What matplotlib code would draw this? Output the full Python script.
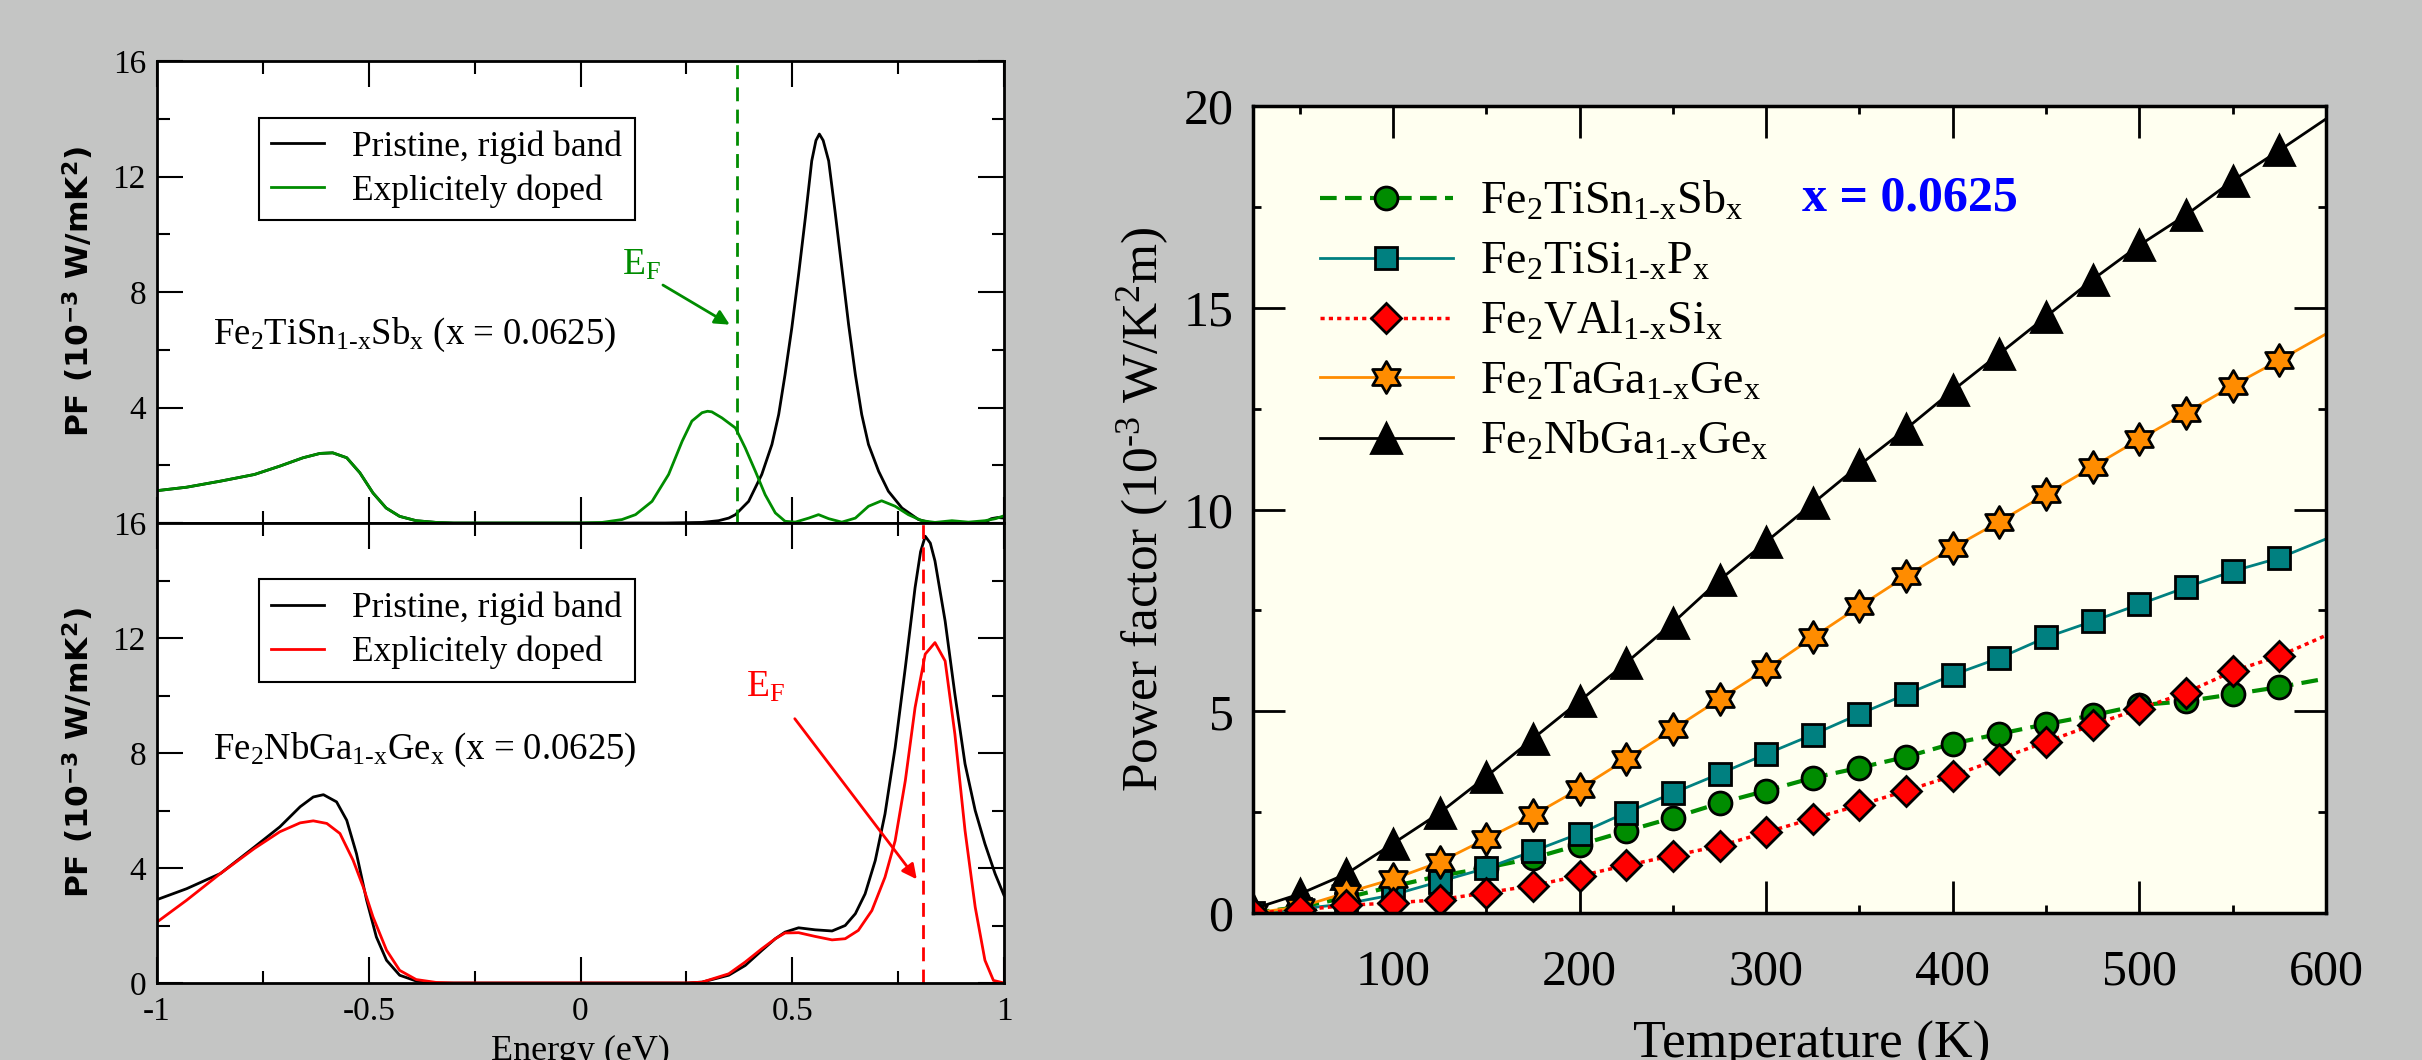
import matplotlib
matplotlib.use('Agg')
import matplotlib.pyplot as plt
import numpy as np
from matplotlib.path import Path
from matplotlib.ticker import MultipleLocator, FixedLocator

plt.rcParams['font.family'] = 'Liberation Serif'
plt.rcParams['mathtext.fontset'] = 'custom'
plt.rcParams['mathtext.rm'] = 'Liberation Serif'
plt.rcParams['mathtext.it'] = 'Liberation Serif:italic'
plt.rcParams['mathtext.bf'] = 'Liberation Serif:bold'
plt.rcParams['axes.unicode_minus'] = False

# ---- left panels: PF vs energy ----
top_E_pristine = [-1.0, -0.93, -0.85, -0.77, -0.71, -0.655, -0.615, -0.585, -0.552, -0.521,
                  -0.49, -0.459, -0.427, -0.388, -0.341, -0.30, 0.0, 0.20, 0.287, 0.326,
                  0.35, 0.366, 0.397, 0.428, 0.452, 0.468, 0.483, 0.499, 0.515, 0.531,
                  0.546, 0.556, 0.564, 0.573, 0.586, 0.601, 0.617, 0.633, 0.649, 0.664,
                  0.68, 0.704, 0.727, 0.759, 0.798, 0.829, 0.90, 0.955, 0.97, 0.985, 1.0]
top_PF_pristine = [1.12, 1.24, 1.45, 1.68, 1.97, 2.26, 2.41, 2.43, 2.26, 1.74,
                   1.04, 0.52, 0.23, 0.08, 0.02, 0.0, 0.0, 0.0, 0.02, 0.08,
                   0.17, 0.29, 0.75, 1.68, 2.72, 3.76, 5.14, 6.76, 8.61, 10.58,
                   12.54, 13.25, 13.47, 13.25, 12.54, 10.8, 8.84, 6.88, 5.14, 3.76,
                   2.72, 1.79, 1.1, 0.52, 0.12, 0.0, 0.0, 0.02, 0.15, 0.19, 0.17]

top_E_doped = [-1.0, -0.93, -0.85, -0.77, -0.71, -0.655, -0.615, -0.585, -0.552, -0.521,
               -0.49, -0.459, -0.427, -0.388, -0.341, -0.30, 0.0, 0.051, 0.098, 0.13,
               0.169, 0.208, 0.24, 0.263, 0.287, 0.30, 0.31, 0.334, 0.366, 0.389,
               0.413, 0.436, 0.46, 0.483, 0.507, 0.539, 0.562, 0.586, 0.617, 0.649,
               0.68, 0.711, 0.743, 0.774, 0.806, 0.837, 0.877, 0.916, 0.955, 0.98, 1.0]
top_PF_doped = [1.12, 1.24, 1.45, 1.68, 1.97, 2.26, 2.41, 2.43, 2.26, 1.74,
                1.04, 0.52, 0.23, 0.08, 0.02, 0.0, 0.0, 0.02, 0.12, 0.29,
                0.75, 1.68, 2.83, 3.53, 3.82, 3.87, 3.85, 3.64, 3.29, 2.6,
                1.79, 0.98, 0.35, 0.06, 0.03, 0.17, 0.29, 0.15, 0.03, 0.17,
                0.58, 0.77, 0.58, 0.29, 0.08, 0.02, 0.08, 0.03, 0.08, 0.15, 0.25]

bot_E_pristine = [-1.0, -0.93, -0.85, -0.77, -0.71, -0.662, -0.631, -0.607, -0.576, -0.552,
                  -0.529, -0.505, -0.482, -0.458, -0.427, -0.388, -0.341, 0.25, 0.287, 0.35,
                  0.389, 0.428, 0.46, 0.483, 0.515, 0.554, 0.594, 0.625, 0.649, 0.672,
                  0.696, 0.719, 0.743, 0.767, 0.79, 0.803, 0.814, 0.826, 0.837, 0.861,
                  0.884, 0.908, 0.932, 0.955, 0.979, 1.0]
bot_PF_pristine = [2.9, 3.28, 3.81, 4.73, 5.43, 6.13, 6.47, 6.55, 6.3, 5.66,
                   4.5, 2.88, 1.6, 0.79, 0.27, 0.07, 0.0, 0.0, 0.03, 0.27,
                   0.61, 1.13, 1.54, 1.77, 1.92, 1.85, 1.81, 2.0, 2.41, 3.1,
                   4.26, 5.88, 8.19, 10.97, 13.75, 15.0, 15.54, 15.3, 14.68, 12.59,
                   10.05, 7.62, 6.0, 4.84, 3.8, 3.05]

bot_E_doped = [-1.0, -0.93, -0.85, -0.77, -0.71, -0.662, -0.631, -0.599, -0.568, -0.537,
               -0.513, -0.49, -0.458, -0.427, -0.388, -0.341, -0.30, 0.25, 0.287, 0.35,
               0.389, 0.428, 0.46, 0.483, 0.515, 0.554, 0.594, 0.625, 0.656, 0.688,
               0.719, 0.743, 0.767, 0.79, 0.814, 0.837, 0.861, 0.884, 0.908, 0.932,
               0.955, 0.975, 1.0]
bot_PF_doped = [2.12, 2.88, 3.81, 4.68, 5.26, 5.57, 5.64, 5.55, 5.2, 4.27,
                3.34, 2.3, 1.14, 0.44, 0.12, 0.02, 0.0, 0.0, 0.03, 0.32,
                0.73, 1.19, 1.54, 1.74, 1.75, 1.62, 1.5, 1.54, 1.83, 2.52,
                3.68, 4.95, 7.04, 9.58, 11.44, 11.84, 11.2, 8.66, 5.3, 2.64,
                0.79, 0.09, 0.0]

ef_top = 0.369
ef_bot = 0.808

# ---- right panel: PF vs temperature ----
T = [25, 50, 75, 100, 125, 150, 175, 200, 225, 250, 275, 300,
     325, 350, 375, 400, 425, 450, 475, 500, 525, 550, 575, 600]
pf_tisn = [0.0, 0.15, 0.38, 0.66, 0.92, 1.12, 1.36, 1.69, 2.03, 2.36, 2.72, 3.03,
           3.35, 3.6, 3.87, 4.2, 4.44, 4.68, 4.9, 5.15, 5.25, 5.42, 5.6, 5.81]
pf_tisi = [0.0, 0.1, 0.23, 0.45, 0.78, 1.11, 1.53, 1.97, 2.49, 2.97, 3.45, 3.94,
           4.42, 4.93, 5.42, 5.9, 6.32, 6.83, 7.23, 7.65, 8.07, 8.47, 8.8, 9.27]
pf_val = [0.0, 0.07, 0.19, 0.25, 0.33, 0.5, 0.68, 0.92, 1.18, 1.42, 1.66, 2.0,
          2.34, 2.67, 3.03, 3.4, 3.82, 4.24, 4.66, 5.06, 5.46, 5.99, 6.37, 6.88]
pf_taga = [0.0, 0.15, 0.5, 0.84, 1.26, 1.84, 2.42, 3.08, 3.81, 4.55, 5.3, 6.04,
           6.83, 7.6, 8.35, 9.05, 9.7, 10.38, 11.06, 11.74, 12.4, 13.07, 13.7, 14.35]
pf_nbga = [0.1, 0.47, 0.97, 1.72, 2.48, 3.38, 4.32, 5.25, 6.2, 7.19, 8.25, 9.2,
           10.15, 11.1, 12.0, 12.95, 13.86, 14.78, 15.7, 16.55, 17.3, 18.15, 18.9, 19.68]

W, H = 2422, 1060
green = '#008c00'
fig = plt.figure(figsize=(W / 100, H / 100), dpi=100, facecolor='#c4c5c4')

ax1 = fig.add_axes([157 / W, 1 - 523 / H, 847 / W, 462 / H])
ax2 = fig.add_axes([157 / W, 1 - 983 / H, 847 / W, 460 / H])
ax3 = fig.add_axes([1253 / W, 1 - 913 / H, 1073 / W, 807 / H])


def style_left(ax, labels):
    ax.set_xlim(-1, 1)
    ax.set_ylim(0, 16)
    ax.xaxis.set_major_locator(FixedLocator([-1, -0.5, 0, 0.5, 1]))
    ax.xaxis.set_minor_locator(MultipleLocator(0.25))
    ax.yaxis.set_major_locator(FixedLocator([0, 4, 8, 12, 16]))
    ax.yaxis.set_minor_locator(MultipleLocator(2))
    ax.set_yticklabels(labels)
    ax.tick_params(which='both', direction='in', top=True, right=True, width=1.5,
                   labelsize=24)
    ax.tick_params(which='major', length=19)
    ax.tick_params(which='minor', length=9)
    ax.tick_params(axis='x', pad=10)
    ax.tick_params(axis='y', pad=8)
    for s in ax.spines.values():
        s.set_linewidth(2)
    ax.set_ylabel(r'PF (10$^{\mathregular{-3}}$ W/mK$^{\mathregular{2}}$)',
                  family='DejaVu Sans', weight='bold', fontsize=22.5)
    ax.yaxis.set_label_coords(-0.072, 0.5)


def left_legend(ax, top):
    leg = ax.legend(loc='upper left', bbox_to_anchor=(0.12, top), fancybox=False,
                    edgecolor='black', framealpha=1, fontsize=25.5, handlelength=1.5,
                    borderaxespad=0, borderpad=0.35, labelspacing=0.3)
    leg.get_frame().set_linewidth(1.5)


# top: Fe2TiSn
ax1.plot(top_E_pristine, top_PF_pristine, color='black', lw=2, label='Pristine, rigid band')
ax1.plot(top_E_doped, top_PF_doped, color=green, lw=2, label='Explicitely doped')
ax1.axvline(ef_top, color=green, lw=2, ls=(0, (5, 3)))
style_left(ax1, ['', '4', '8', '12', '16'])
ax1.set_xticklabels([])
ax1.text(-0.868, 6.2, r'Fe$_2$TiSn$_{\text{1-x}}$Sb$_{\text{x}}$ (x = 0.0625)', fontsize=26.5)
ax1.text(0.098, 8.6, r'E$_{\text{F}}$', color=green, fontsize=27)
ax1.annotate('', xy=(0.358, 6.82), xytext=(0.189, 8.29),
             arrowprops=dict(arrowstyle='-|>', color=green, lw=2, mutation_scale=22))
left_legend(ax1, 0.877)

# bottom: Fe2NbGa
ax2.plot(bot_E_pristine, bot_PF_pristine, color='black', lw=2, label='Pristine, rigid band')
ax2.plot(bot_E_doped, bot_PF_doped, color='red', lw=2, label='Explicitely doped')
ax2.axvline(ef_bot, color='red', lw=2, ls=(0, (5, 3)))
style_left(ax2, ['0', '4', '8', '12', '16'])
ax2.set_xticklabels(['-1', '-0.5', '0', '0.5', '1'])
ax2.text(-0.868, 7.8, r'Fe$_2$NbGa$_{\text{1-x}}$Ge$_{\text{x}}$ (x = 0.0625)', fontsize=26.5)
ax2.text(0.391, 9.95, r'E$_{\text{F}}$', color='red', fontsize=27)
ax2.annotate('', xy=(0.798, 3.53), xytext=(0.502, 9.27),
             arrowprops=dict(arrowstyle='-|>', color='red', lw=2, mutation_scale=22))
left_legend(ax2, 0.878)
ax2.set_xlabel('Energy (eV)', fontsize=26)
ax2.xaxis.set_label_coords(0.5, -0.113)
ax2.xaxis.label.set_va('top')

# right panel
star6 = Path.unit_regular_star(6, innerCircle=0.577)
ax3.set_facecolor('#fffff0')
mk = dict(markevery=slice(0, -1), mec='black', mew=2)
h_nb, = ax3.plot(T, pf_nbga, color='black', lw=2, marker='^', ms=21, mfc='black',
                 label=r'Fe$_2$NbGa$_{\text{1-x}}$Ge$_{\text{x}}$', **mk)
h_sn, = ax3.plot(T, pf_tisn, color=green, lw=3, ls=(0, (4, 2)), marker='o', ms=16.5,
                 mfc=green, label=r'Fe$_2$TiSn$_{\text{1-x}}$Sb$_{\text{x}}$', **mk)
h_si, = ax3.plot(T, pf_tisi, color='#008080', lw=2, marker='s', ms=16.5, mfc='#008080',
                 label=r'Fe$_2$TiSi$_{\text{1-x}}$P$_{\text{x}}$', **mk)
h_ta, = ax3.plot(T, pf_taga, color='#ff8c00', lw=2, marker=star6, ms=23, mfc='#ff8c00',
                 label=r'Fe$_2$TaGa$_{\text{1-x}}$Ge$_{\text{x}}$', **mk)
h_va, = ax3.plot(T, pf_val, color='red', lw=2.5, ls=(0, (1.2, 1.2)), marker='D', ms=15,
                 mfc='red', label=r'Fe$_2$VAl$_{\text{1-x}}$Si$_{\text{x}}$', **mk)

ax3.set_xlim(25, 600)
ax3.set_ylim(0, 20)
ax3.xaxis.set_major_locator(MultipleLocator(100))
ax3.xaxis.set_minor_locator(MultipleLocator(50))
ax3.yaxis.set_major_locator(MultipleLocator(5))
ax3.yaxis.set_minor_locator(MultipleLocator(2.5))
ax3.tick_params(which='both', direction='in', top=True, right=True, width=2, labelsize=36)
ax3.tick_params(which='major', length=23)
ax3.tick_params(which='minor', length=6)
ax3.tick_params(axis='x', pad=26)
ax3.tick_params(axis='y', pad=14)
for s in ax3.spines.values():
    s.set_linewidth(2.5)
ax3.set_xlabel('Temperature (K)', fontsize=38.5)
ax3.xaxis.set_label_coords(0.521, -0.134)
ax3.xaxis.label.set_va('top')
ax3.set_ylabel(r'Power factor (10$^{\text{-3}}$ W/K$^{2}$m)', fontsize=37)
ax3.yaxis.set_label_coords(-0.076, 0.5)

ax3.legend(handles=[h_sn, h_si, h_va, h_ta, h_nb], loc='upper left',
           bbox_to_anchor=(0.045, 0.93), frameon=False, fontsize=33,
           handlelength=2.9, labelspacing=0.37, borderaxespad=0, handletextpad=0.6)
ax3.text(377, 17.7, 'x = 0.0625', color='blue', weight='bold', fontsize=36,
         ha='center', va='center')

fig.savefig('out.png', dpi=100, facecolor=fig.get_facecolor())
